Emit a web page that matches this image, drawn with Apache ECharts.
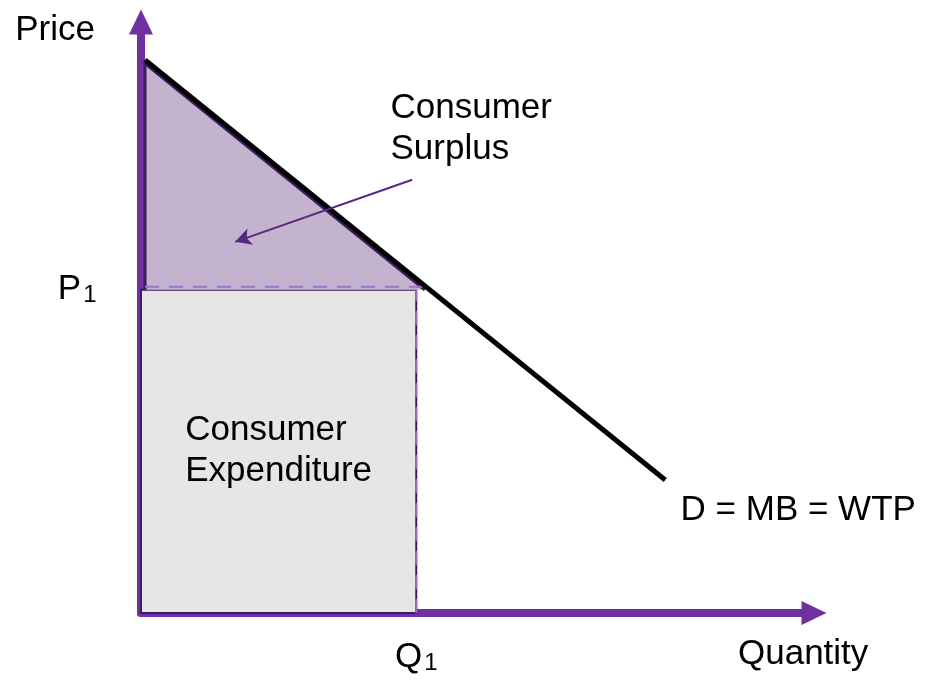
<!DOCTYPE html>
<html><head><meta charset="utf-8">
<script src="https://cdn.jsdelivr.net/npm/echarts@6/dist/echarts.min.js"></script>
<style>html,body{margin:0;padding:0;background:#fff}#c{width:929px;height:692px}</style>
</head><body><div id="c"></div>
<script>
// ---- data (quantity on x, price on y, both 0..100 units) ----
const axisMaxQ = 100;
const axisMaxP = 100;
const demandQ = [0.6, 77.9];
const demandP = [93.6, 22.5];
const Q1 = 40.9;
const P1 = 54.7;
const surplusQ = [0.6, 0.6, 42.6];
const surplusP = [93.3, 54.7, 54.7];
const expenditureQ = [0, 40.9];
const expenditureP = [0, 54.7];
const calloutFrom = [40.3, 73.3];
const calloutTo = [14.0, 62.8];
const noteTexts = ['Consumer\nSurplus', 'Consumer\nExpenditure', 'D = MB = WTP'];
const noteQ = [37.0, 6.5, 80.1];
const noteP = [88.8, 34.3, 20.8];
const axisNames = ['Quantity', 'Price'];

const FONT = "'Liberation Sans', Arial, Helvetica, sans-serif";
const FS = 35;
const PURPLE = '#7030a0';
const DARK = '#3d1d5b';
const LIGHT = '#9d72c4';

const chart = echarts.init(document.getElementById('c'), null, {renderer: 'canvas'});
chart.setOption({
  animation: false,
  backgroundColor: '#ffffff',
  grid: {left: 141, right: 115, top: 22, bottom: 79, containLabel: false},
  xAxis: {
    type: 'value', min: 0, max: axisMaxQ,
    name: axisNames[0], nameLocation: 'end', nameGap: -76,
    nameTextStyle: {fontFamily: FONT, fontSize: FS, color: '#000', align: 'left', verticalAlign: 'top', lineHeight: 41, padding: [21, 0, 0, 0]},
    axisLine: {show: true, symbol: ['none', 'triangle'], symbolSize: [24, 25], lineStyle: {color: PURPLE, width: 8}},
    axisTick: {show: false}, axisLabel: {show: false}, splitLine: {show: false}
  },
  yAxis: {
    type: 'value', min: 0, max: axisMaxP,
    name: axisNames[1], nameLocation: 'end', nameGap: 12,
    nameTextStyle: {fontFamily: FONT, fontSize: FS, color: '#000', align: 'right', verticalAlign: 'top', lineHeight: 41, padding: [0, 46, 0, 0]},
    axisLine: {show: true, symbol: ['none', 'triangle'], symbolSize: [24, 25], lineStyle: {color: PURPLE, width: 8}},
    axisTick: {show: false}, axisLabel: {show: false}, splitLine: {show: false}
  },
  series: [
    {
      type: 'custom', z: 2, silent: true, clip: false,
      data: [[expenditureQ[1], expenditureP[1]]],
      renderItem: (params, api) => {
        const a = api.coord([expenditureQ[0], expenditureP[1]]);
        const b = api.coord([expenditureQ[1], expenditureP[0]]);
        return {type: 'rect', shape: {x: a[0], y: a[1], width: b[0] - a[0], height: b[1] - a[1]},
          style: {fill: '#e6e6e6', stroke: DARK, lineWidth: 2}};
      }
    },
    {
      type: 'custom', z: 3, silent: true, clip: false,
      data: [[surplusQ[2], surplusP[2]]],
      renderItem: (params, api) => {
        const pts = surplusQ.map((q, i) => api.coord([q, surplusP[i]]));
        return {type: 'group', children: [
          {type: 'polygon', shape: {points: pts}, style: {fill: '#c3b3ce', stroke: null}},
          {type: 'polyline', shape: {points: [[pts[1][0], pts[1][1]], [pts[0][0], pts[0][1] + 2], [pts[2][0] - 3, pts[2][1]]]}, style: {fill: null, stroke: DARK, lineWidth: 3}},
          {type: 'line', shape: {x1: pts[1][0], y1: pts[1][1] - 3, x2: pts[2][0], y2: pts[2][1] - 3}, style: {stroke: LIGHT, lineWidth: 2, lineDash: [14, 10]}}
        ]};
      }
    },
    {
      type: 'line', z: 3, silent: true, symbol: 'none',
      data: [[Q1, 0], [Q1, P1]],
      lineStyle: {color: LIGHT, width: 2, type: [14, 10], dashOffset: 0},
      markLine: {
        silent: true, symbol: ['none', 'arrow'], symbolSize: [13, 16],
        lineStyle: {color: '#56287f', width: 2, type: 'solid'},
        label: {show: false},
        data: [[{coord: calloutFrom}, {coord: calloutTo}]]
      }
    },
    {
      type: 'line', z: 4, silent: true, symbol: 'none',
      data: demandQ.map((q, i) => [q, demandP[i]]),
      lineStyle: {color: '#000', width: 5, cap: 'butt'}
    },
    {
      type: 'scatter', z: 5, silent: true, symbolSize: 1,
      itemStyle: {color: 'transparent', opacity: 1},
      data: noteQ.map((q, i) => ({value: [q, noteP[i]], name: noteTexts[i]})),
      label: {show: true, position: 'right', distance: 0, align: 'left', verticalAlign: 'top',
        formatter: p => p.name, fontFamily: FONT, fontSize: FS, lineHeight: 41, color: '#000', opacity: 1}
    },
    {
      type: 'scatter', z: 5, silent: true, symbolSize: 1, clip: false,
      itemStyle: {color: 'transparent', opacity: 1},
      data: [
        {value: [0, P1], label: {position: 'left', distance: 44, formatter: '{a|P}{b|1}'}},
        {value: [Q1, 0], label: {position: 'bottom', distance: 24, formatter: '{a|Q}{b|1}'}}
      ],
      label: {show: true, color: '#000', opacity: 1,
        rich: {
          a: {fontFamily: FONT, fontSize: FS, lineHeight: 40, color: '#000'},
          b: {fontFamily: FONT, fontSize: 24, verticalAlign: 'middle', padding: [11, 0, 0, 2], color: '#000'}
        }}
    }
  ]
});
</script></body></html>
